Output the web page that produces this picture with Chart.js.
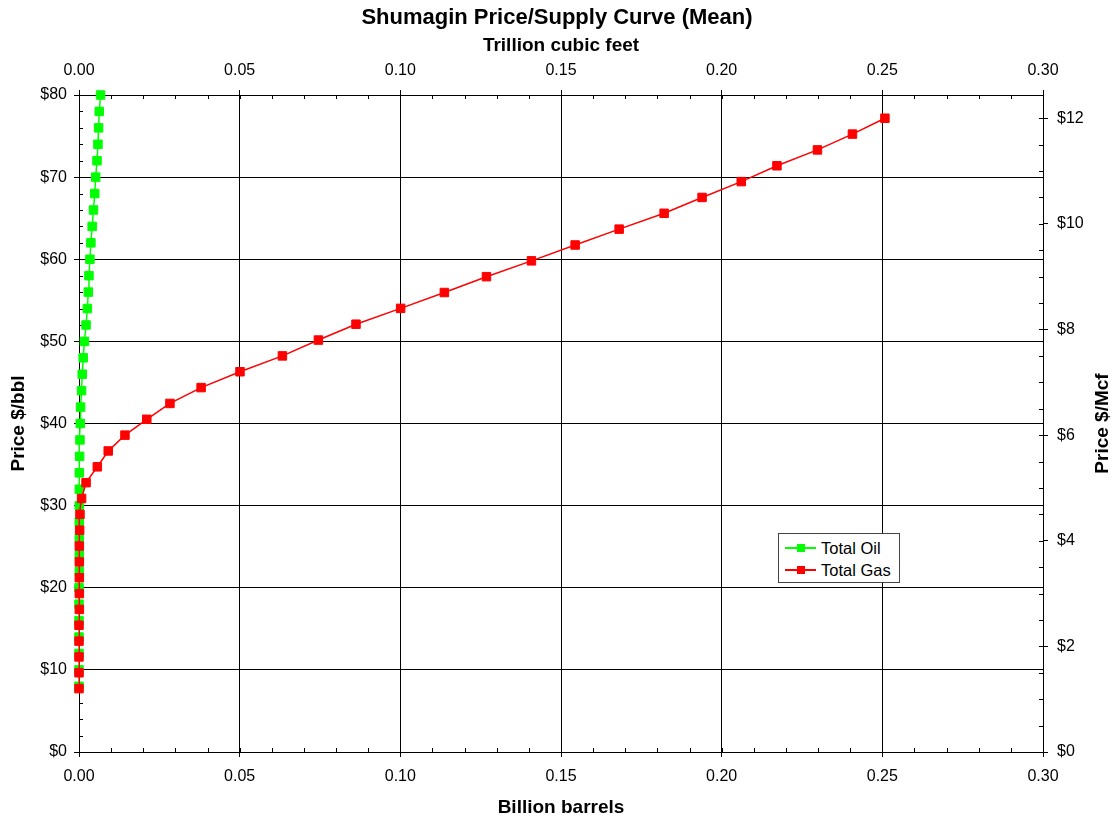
<!DOCTYPE html>
<html>
<head>
<meta charset="utf-8">
<script src="https://cdn.jsdelivr.net/npm/chart.js@4.4.1/dist/chart.umd.min.js"></script>
<style>
  body { margin:0; background:#fff; }
  #wrap { position:relative; width:1114px; height:819px; }
  #legend {
    position:absolute; left:778px; top:533px; width:120px; height:48px;
    border:1px solid #444; background:#fff;
    font:16.5px 'Liberation Sans', Arial, sans-serif; color:#000;
  }
  .row { position:absolute; left:0; height:20px; width:100%; }
  .row .ln { position:absolute; left:6px; top:9px; width:31px; height:2px; }
  .row .sq { position:absolute; left:18px; top:6px; width:8px; height:8px; }
  .row span { position:absolute; left:42px; top:1px; white-space:nowrap; }
</style>
</head>
<body>
<div id="wrap">
  <canvas id="chart1" width="1114" height="819"></canvas>
  <div id="legend">
    <div class="row" style="top:4px"><div class="ln" style="background:#00ff00"></div><div class="sq" style="background:#00ff00"></div><span>Total Oil</span></div>
    <div class="row" style="top:26px"><div class="ln" style="background:#ff0000"></div><div class="sq" style="background:#ff0000"></div><span>Total Gas</span></div>
  </div>
</div>
<script>
// ── DATA ──────────────────────────────────────────────────
// oil: price $/bbl vs billion barrels
const oilPrice  = [8,10,12,14,16,18,20,22,24,26,28,30,32,34,36,38,40,42,44,46,48,
                   50,52,54,56,58,60,62,64,66,68,70,72,74,76,78,80];
const oilVolume = [0.0000,0.0000,0.0000,0.0000,0.0000,0.0000,0.0000,0.0001,0.0001,0.0001,0.0001,
                   0.0001,0.0001,0.0001,0.0002,0.0003,0.0004,0.0005,0.0008,0.0010,0.0013,
                   0.0017,0.0022,0.0026,0.0029,0.0031,0.0034,0.0037,0.0041,0.0045,0.0049,
                   0.0052,0.0056,0.0059,0.0061,0.0063,0.0067];

// gas: price $/Mcf vs trillion cubic feet
const gasPrice  = [1.2,1.5,1.8,2.1,2.4,2.7,3.0,3.3,3.6,3.9,4.2,4.5,4.8,5.1,5.4,5.7,6.0,
                   6.3,6.6,6.9,7.2,7.5,7.8,8.1,8.4,8.7,9.0,9.3,9.6,9.9,10.2,10.5,10.8,
                   11.1,11.4,11.7,12.0];
const gasVolume = [0.0000,0.0000,0.0000,0.0000,0.0000,0.0001,0.0001,0.0001,0.0001,0.0001,
                   0.0002,0.0003,0.0008,0.0022,0.0057,0.0091,0.0143,0.0211,0.0283,0.0380,
                   0.0501,0.0633,0.0745,0.0862,0.1001,0.1137,0.1268,0.1408,0.1544,0.1681,
                   0.1821,0.1939,0.2061,0.2172,0.2298,0.2407,0.2508];

const X_MAX     = 0.30;
const BBL_MAX   = 80;
const MCF_MAX   = 12.44;   // right axis top, matches $80/bbl on left
const MINOR     = { x:0.01, x2:0.01, y:2, y2:0.5 };
const MCF_TITLE = 'Price $/Mcf';

// ── STYLE ─────────────────────────────────────────────────
Chart.defaults.font.family = "'Liberation Sans', Arial, sans-serif";
Chart.defaults.color = '#000';

const TICK_FONT  = { size:16 };
const TITLE_FONT = { size:19, weight:'bold' };

// inward minor tick marks along the frame
const minorTicks = {
  id:'minorTicks',
  beforeDatasetsDraw(chart) {
    const ctx = chart.ctx, a = chart.chartArea;
    ctx.save();
    ctx.strokeStyle = '#000';
    ctx.lineWidth = 1;
    Object.entries(MINOR).forEach(([id, step]) => {
      const s = chart.scales[id];
      const n = Math.floor((s.max - s.min) / step + 1e-6);
      for (let i = 0; i <= n; i++) {
        const p = Math.round(s.getPixelForValue(s.min + i * step)) + 0.5;
        ctx.beginPath();
        if (id === 'x')  { ctx.moveTo(p, a.bottom); ctx.lineTo(p, a.bottom - 4); }
        if (id === 'x2') { ctx.moveTo(p, a.top);    ctx.lineTo(p, a.top + 4); }
        if (id === 'y')  { ctx.moveTo(a.left, p);   ctx.lineTo(a.left + 4, p); }
        if (id === 'y2') { ctx.moveTo(a.right, p);  ctx.lineTo(a.right - 4, p); }
        ctx.stroke();
      }
    });
    ctx.restore();
  }
};

// right axis title reads bottom-to-top like the left one
const rightTitle = {
  id:'rightTitle',
  afterDraw(chart) {
    const ctx = chart.ctx, a = chart.chartArea, s = chart.scales.y2;
    ctx.save();
    ctx.translate(s.right - 11, (a.top + a.bottom) / 2);
    ctx.rotate(-Math.PI / 2);
    ctx.font = "bold 19px 'Liberation Sans', Arial, sans-serif";
    ctx.fillStyle = '#000';
    ctx.textAlign = 'center';
    ctx.textBaseline = 'middle';
    ctx.fillText(MCF_TITLE, 0, 0);
    ctx.restore();
  }
};

const xTicks = { stepSize:0.05, font:TICK_FONT, color:'#000', padding:10, maxRotation:0,
                 callback:v => v.toFixed(2) };

// ── CHART ─────────────────────────────────────────────────
const ctx = document.getElementById('chart1').getContext('2d');
new Chart(ctx, {
  type:'scatter',
  data:{ datasets:[
    {
      label:'Total Gas',
      data:gasVolume.map((v,i) => ({ x:v, y:gasPrice[i] })),
      xAxisID:'x2', yAxisID:'y2',
      showLine:true, borderColor:'#ff0000', backgroundColor:'#ff0000',
      borderWidth:1.5, pointStyle:'rect', pointRadius:6, pointBorderWidth:1,
      clip:false,
    },
    {
      label:'Total Oil',
      data:oilVolume.map((v,i) => ({ x:v, y:oilPrice[i] })),
      xAxisID:'x', yAxisID:'y',
      showLine:true, borderColor:'#00ff00', backgroundColor:'#00ff00',
      borderWidth:1.5, pointStyle:'rect', pointRadius:6, pointBorderWidth:1,
      clip:false,
    },
  ]},
  options:{
    responsive:false,
    animation:false,
    layout:{ padding:0 },
    plugins:{
      legend:{ display:false },
      tooltip:{ enabled:false },
      title:{ display:true, text:'Shumagin Price/Supply Curve (Mean)', color:'#000',
              font:{ size:22, weight:'bold' }, padding:{ top:5, bottom:3 } },
    },
    scales:{
      x:{
        type:'linear', position:'bottom', min:0, max:X_MAX,
        ticks:xTicks,
        grid:{ color:'#000', lineWidth:1, tickLength:5, tickColor:'#000' },
        border:{ color:'#000', width:1 },
        title:{ display:true, text:'Billion barrels', font:TITLE_FONT, color:'#000', padding:{ top:0, bottom:0 } },
        afterFit:s => { s.height = 67; },
      },
      x2:{
        type:'linear', position:'top', min:0, max:X_MAX,
        ticks:xTicks,
        grid:{ drawOnChartArea:false, tickLength:5, tickColor:'#000' },
        border:{ color:'#000', width:1 },
        title:{ display:true, text:'Trillion cubic feet', font:TITLE_FONT, color:'#000', padding:{ top:0, bottom:0 } },
        afterFit:s => { s.height = 60.6; },
      },
      y:{
        type:'linear', position:'left', min:0, max:BBL_MAX,
        ticks:{ stepSize:10, font:TICK_FONT, color:'#000', padding:7, callback:v => '$' + v },
        grid:{ color:'#000', lineWidth:1, tickLength:5, tickColor:'#000' },
        border:{ color:'#000', width:1 },
        title:{ display:true, text:'Price $/bbl', font:TITLE_FONT, color:'#000', padding:{ top:7, bottom:0 } },
        afterFit:s => { s.width = 79; },
      },
      y2:{
        type:'linear', position:'right', min:0, max:MCF_MAX,
        ticks:{ stepSize:2, font:TICK_FONT, color:'#000', padding:9, callback:v => '$' + v },
        afterBuildTicks:s => { s.ticks = s.ticks.filter(t => Math.abs(t.value % 2) < 1e-6); },
        grid:{ drawOnChartArea:false, tickLength:5, tickColor:'#000' },
        border:{ color:'#000', width:1 },
        title:{ display:false },
        afterFit:s => { s.width = 71; },
      },
    }
  },
  plugins:[minorTicks, rightTitle],
});
</script>
</body>
</html>
